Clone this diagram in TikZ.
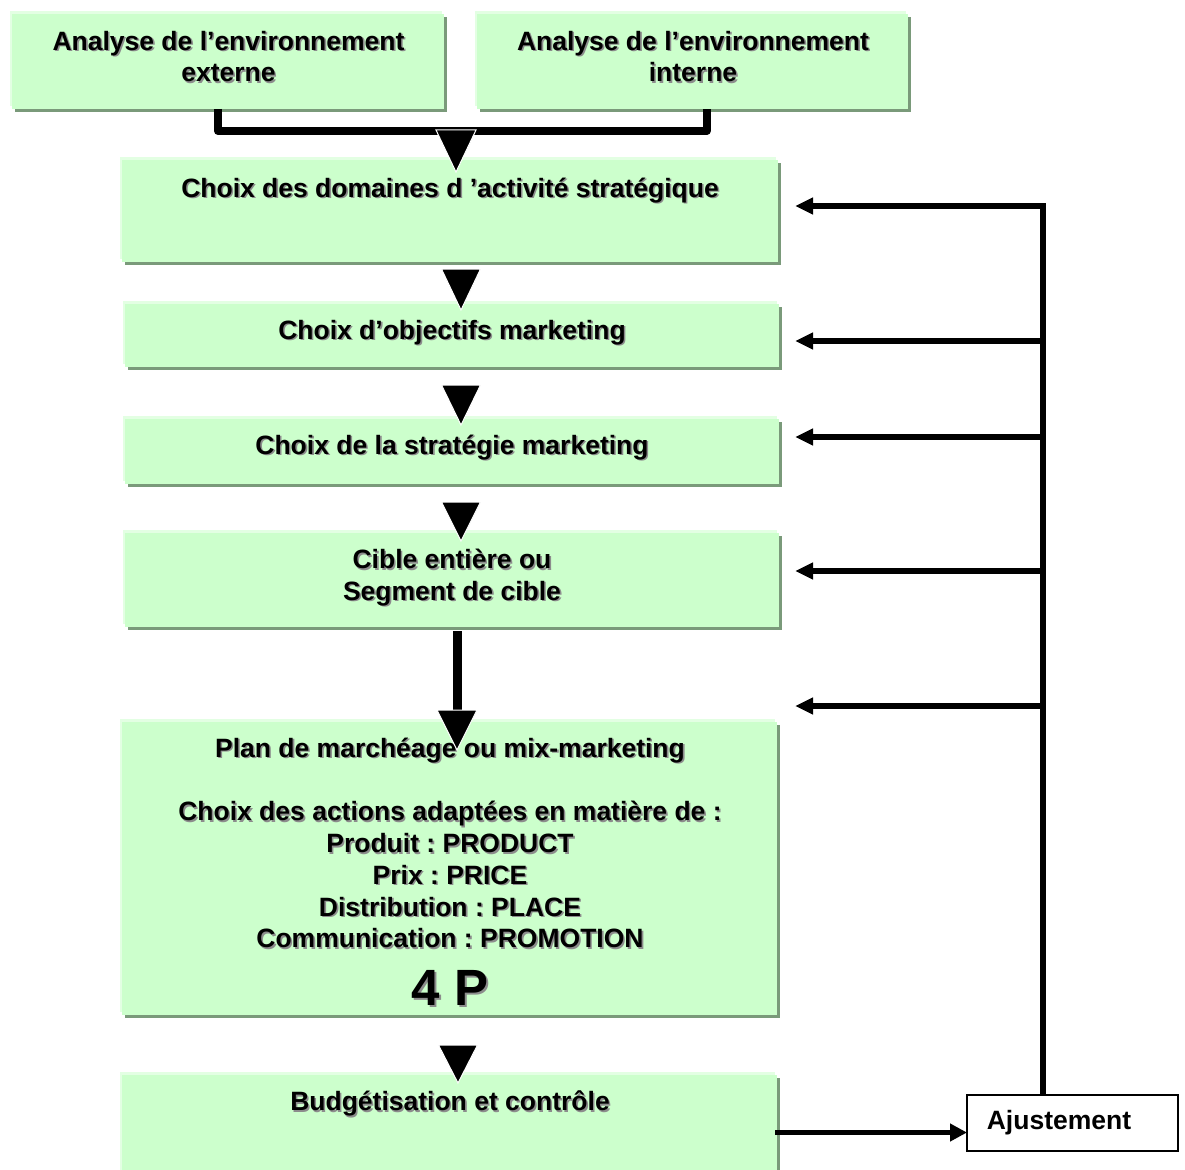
\documentclass[tikz,border=0pt]{standalone}
\usepackage{fontspec}
\setmainfont{Liberation Sans}
\usetikzlibrary{arrows.meta,shadows,calc}
\definecolor{boxfill}{HTML}{CCFFCC}
\definecolor{boxdark}{HTML}{7A9A7A}
\definecolor{boxlight}{HTML}{E3FFE3}
\definecolor{tshadow}{HTML}{8C8C8C}
\frenchspacing
\newcommand\shtxt[1]{\rule[-7pt]{0pt}{31pt}\rlap{\hspace{1.6pt}\raisebox{-1.6pt}{\textcolor{tshadow}{#1}}}#1}
\begin{document}
\begin{tikzpicture}[x=1pt,y=-1pt,
  gbox/.style={fill=boxfill, draw=none, inner sep=0pt, outer sep=0pt, anchor=north west,
    general shadow={shadow xshift=-2pt, shadow yshift=3pt, fill=boxlight, draw=none},
    general shadow={shadow xshift=3pt, shadow yshift=-3pt, fill=boxdark, draw=none}},
  txt/.style={font=\fontsize{26.5}{31.8}\selectfont\bfseries, align=center, inner sep=0pt},
  tri/.style={fill=black, draw=white, line width=1pt, line join=miter},
  conn/.style={line width=8pt, line join=round, line cap=butt},
  shaft/.style={line width=9pt},
  fbarrow/.style={line width=5.5pt, line join=miter, -{Triangle[length=18pt,width=16pt]}},
  ajbox/.style={draw=black, fill=white, line width=2pt, inner sep=0pt, outer sep=0pt, anchor=north west}
]
\useasboundingbox (0,0) rectangle (1185,1169);
\fill[white] (0,0) rectangle (1185,1169);

% boxes
\node[gbox, minimum width=432pt, minimum height=95pt] (b1) at (12,14) {};
\node[gbox, minimum width=431pt, minimum height=95pt] (b2) at (477,14) {};
\node[gbox, minimum width=656pt, minimum height=102pt] (b3) at (122,160) {};
\node[gbox, minimum width=654pt, minimum height=63pt] (b4) at (125,304) {};
\node[gbox, minimum width=654pt, minimum height=65pt] (b5) at (125,419) {};
\node[gbox, minimum width=654pt, minimum height=94pt] (b6) at (125,533) {};
\node[gbox, minimum width=655pt, minimum height=293pt] (b7) at (122,722) {};
\node[gbox, minimum width=655pt, minimum height=110pt] (b8) at (122,1075) {};
\node[ajbox, minimum width=211pt, minimum height=56pt] (aj) at (967,1095) {};

% texts
\node[txt] (t1) at (228.5,57.5) {\shtxt{Analyse de l’environnement}\\\shtxt{externe}};
\node[txt] (t2) at (693,57.5) {\shtxt{Analyse de l’environnement}\\\shtxt{interne}};
\node[txt] (t3) at (450,189) {\shtxt{Choix des domaines d ’activité stratégique}};
\node[txt] (t4) at (452,331) {\shtxt{Choix d’objectifs marketing}};
\node[txt] (t5) at (452,446) {\shtxt{Choix de la stratégie marketing}};
\node[txt] (t6) at (452,576) {\shtxt{Cible entière ou}\\\shtxt{Segment de cible}};
\node[txt] (t7) at (450,844) {\shtxt{Plan de marchéage ou mix-marketing}\\[31.8pt]
  \shtxt{Choix des actions adaptées en matière de :}\\
  \shtxt{Produit : PRODUCT}\\
  \shtxt{Prix : PRICE}\\
  \shtxt{Distribution : PLACE}\\
  \shtxt{Communication : PROMOTION}};
\node[font=\fontsize{51}{60}\selectfont\bfseries, inner sep=0pt, text height=37pt, text depth=0pt] (t7p) at (450,987)
  {\rlap{\hspace{2pt}\raisebox{-2pt}{\textcolor{tshadow}{4 P}}}4 P};
\node[txt] (t8) at (450,1102) {\shtxt{Budgétisation et contrôle}};
\node[font=\fontsize{26.5}{31.8}\selectfont\bfseries, inner sep=0pt] (t9) at (1059,1123) {Ajustement};

% top merge connector
\coordinate (jn) at (456,131);
\draw[conn] ([xshift=-10pt]b1.south) |- (jn) -| ([xshift=14pt]b2.south);

% downward triangles
\filldraw[tri] ([xshift=6pt,yshift=-12pt]b3.north) -- ++(-20,-42) -- ++(40,0) -- cycle;
\filldraw[tri] ([xshift=9pt,yshift=-6pt]b4.north) -- ++(-19.5,-41) -- ++(39,0) -- cycle;
\filldraw[tri] ([xshift=9pt,yshift=-6pt]b5.north) -- ++(-19.5,-40) -- ++(39,0) -- cycle;
\filldraw[tri] ([xshift=9pt,yshift=-8pt]b6.north) -- ++(-19.5,-39) -- ++(39,0) -- cycle;
\draw[shaft] ([xshift=5pt,yshift=-4pt]b6.south) -- ++(0,81);
\filldraw[tri] ([xshift=7.5pt,yshift=-28pt]b7.north) -- ++(-20,-40) -- ++(40,0) -- cycle;
\filldraw[tri] ([xshift=8.5pt,yshift=-8pt]b8.north) -- ++(-19.5,-38) -- ++(39,0) -- cycle;

% feedback loop
\coordinate (vx) at (1043,206);
\coordinate (f1) at (795,206);
\coordinate (f2) at (795,341);
\coordinate (f3) at (795,437);
\coordinate (f4) at (795,571);
\coordinate (f5) at (795,706);
\draw[fbarrow] (aj.north -| vx) -- (vx) -- (f1);
\draw[fbarrow] (vx |- f2) -- (f2);
\draw[fbarrow] (vx |- f3) -- (f3);
\draw[fbarrow] (vx |- f4) -- (f4);
\draw[fbarrow] (vx |- f5) -- (f5);

% to Ajustement
\coordinate (ay) at (0,1132.5);
\draw[line width=5pt, -{Triangle[length=17pt,width=17pt]}] ([xshift=-2pt]b8.east |- ay) -- (aj.west |- ay);
\end{tikzpicture}
\end{document}
